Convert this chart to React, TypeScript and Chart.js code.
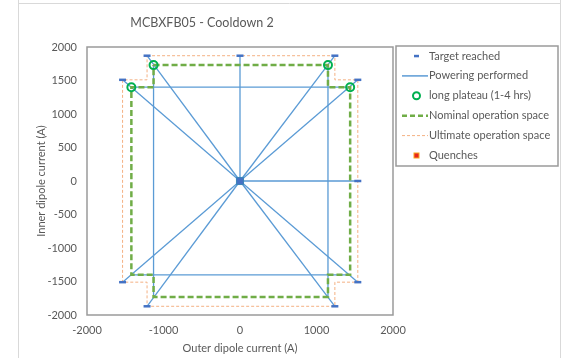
import React, { useEffect, useRef } from 'react';
import { Chart, registerables } from 'chart.js';

Chart.register(...registerables);

const FONT = 'Lato, "Open Sans", sans-serif';
const TEXT = '#595959';

// ---- data ----
const chartTitle = 'MCBXFB05 - Cooldown 2';
const xAxisTitle = 'Outer dipole current (A)';
const yAxisTitle = 'Inner dipole current (A)';

const targetX = [-1215, 0, 1240, 1540, 1540, 1540, 1240, -1215, -1535, -1535];
const targetY = [1870, 1870, 1870, 1510, 0, -1510, -1870, -1870, -1510, 1510];

const plateauX = [-1130, 1150, -1420, 1440];
const plateauY = [1730, 1730, 1400, 1400];

const nominalX = [-1130, 1150, 1150, 1440, 1440, 1150, 1150, -1130, -1130, -1420, -1420, -1130, -1130];
const nominalY = [1730, 1730, 1400, 1400, -1400, -1400, -1730, -1730, -1400, -1400, 1400, 1400, 1730];

const ultimateX = [-1215, 1240, 1240, 1540, 1540, 1240, 1240, -1215, -1215, -1535, -1535, -1215, -1215];
const ultimateY = [1870, 1870, 1510, 1510, -1510, -1510, -1870, -1870, -1510, -1510, 1510, 1510, 1870];

// powering paths: each path is a list of [x, y]
const poweringPaths: number[][][] = [
  [[-1420, 1400], [1440, 1400]],
  [[-1420, -1400], [1440, -1400]],
  [[-1130, 1730], [-1130, -1730]],
  [[1150, 1730], [1150, -1730]],
  [[0, 1870], [0, 0], [1540, 0]],
  [[0, 0], [-1215, 1870]],
  [[0, 0], [1240, 1870]],
  [[0, 0], [-1535, 1510]],
  [[0, 0], [1540, 1510]],
  [[0, 0], [-1535, -1510]],
  [[0, 0], [1540, -1510]],
  [[0, 0], [-1215, -1870]],
  [[0, 0], [1240, -1870]],
];

const originX = [0];
const originY = [0];

const quenchX: number[] = [];
const quenchY: number[] = [];

const legendLabels = [
  'Target reached',
  'Powering performed',
  'long plateau (1-4 hrs)',
  'Nominal operation space',
  'Ultimate operation space',
  'Quenches',
];

const BLUE_DARK = '#4472C4';
const BLUE = '#5B9BD5';
const GREEN_C = '#00B050';
const GREEN = '#70AD47';
const ORANGE = '#F4B183';

const pts = (xs: number[], ys: number[]) => xs.map((x, i) => ({ x, y: ys[i] }));

const framePlugin = {
  id: 'frame',
  beforeDraw(chart: any) {
    const ctx = chart.ctx;
    ctx.save();
    ctx.strokeStyle = '#d9d9d9';
    ctx.lineWidth = 1;
    ctx.beginPath();
    ctx.moveTo(18.5, 0);
    ctx.lineTo(18.5, 358);
    ctx.moveTo(560.5, 0);
    ctx.lineTo(560.5, 358);
    ctx.moveTo(18, 3.5);
    ctx.lineTo(561, 3.5);
    ctx.stroke();
    // title
    ctx.fillStyle = TEXT;
    ctx.font = `12.5px ${FONT}`;
    ctx.textAlign = 'center';
    ctx.textBaseline = 'middle';
    ctx.fillText(chartTitle, 202, 23);
    ctx.restore();
  },
  afterDatasetsDraw(chart: any) {
    const { ctx, chartArea } = chart;
    ctx.save();
    ctx.strokeStyle = '#9a9a9a';
    ctx.lineWidth = 1.5;
    ctx.strokeRect(chartArea.left, chartArea.top, chartArea.right - chartArea.left, chartArea.bottom - chartArea.top);
    ctx.restore();
  },
  afterDraw(chart: any) {
    const ctx = chart.ctx;
    ctx.save();
    ctx.strokeStyle = '#9a9a9a';
    ctx.lineWidth = 1.5;
    ctx.strokeRect(396, 46, 162, 120);
    const x0 = 402, x1 = 428, cx = 416.5;
    legendLabels.forEach((label, i) => {
      const y = 56 + i * 19.9;
      ctx.save();
      if (i === 0) {
        ctx.fillStyle = BLUE_DARK;
        ctx.fillRect(cx - 2.5, y - 1.2, 5, 2.5);
      } else if (i === 1) {
        ctx.strokeStyle = BLUE;
        ctx.lineWidth = 1.5;
        ctx.beginPath(); ctx.moveTo(x0, y); ctx.lineTo(x1, y); ctx.stroke();
      } else if (i === 2) {
        ctx.strokeStyle = GREEN_C;
        ctx.lineWidth = 2;
        ctx.beginPath(); ctx.arc(cx, y, 3.5, 0, Math.PI * 2); ctx.stroke();
      } else if (i === 3) {
        ctx.strokeStyle = GREEN;
        ctx.lineWidth = 2.5;
        ctx.setLineDash([5, 3]);
        ctx.beginPath(); ctx.moveTo(x0, y); ctx.lineTo(x1, y); ctx.stroke();
      } else if (i === 4) {
        ctx.strokeStyle = ORANGE;
        ctx.lineWidth = 1;
        ctx.setLineDash([3, 2]);
        ctx.beginPath(); ctx.moveTo(x0, y); ctx.lineTo(x1, y); ctx.stroke();
      } else {
        ctx.fillStyle = '#e8261c';
        ctx.strokeStyle = '#f8a51c';
        ctx.lineWidth = 1;
        ctx.fillRect(cx - 2.5, y - 2.5, 5, 5);
        ctx.strokeRect(cx - 2.5, y - 2.5, 5, 5);
      }
      ctx.restore();
      ctx.fillStyle = TEXT;
      ctx.font = `11px ${FONT}`;
      ctx.textAlign = 'left';
      ctx.textBaseline = 'middle';
      ctx.fillText(label, 429, y);
    });
    ctx.restore();
  },
};

export default function App() {
  const ref = useRef<HTMLCanvasElement | null>(null);

  useEffect(() => {
    if (!ref.current) return;
    const datasets: any[] = [];

    datasets.push({
      label: 'Target reached',
      data: pts(targetX, targetY),
      showLine: false,
      pointStyle: 'line',
      pointRadius: 3.5,
      pointBorderWidth: 2.5,
      pointBorderColor: BLUE_DARK,
      pointBackgroundColor: BLUE_DARK,
    });
    datasets.push({
      label: 'Quenches',
      data: pts(quenchX, quenchY),
      showLine: false,
      pointStyle: 'rect',
      pointRadius: 3,
      pointBackgroundColor: '#e8261c',
      pointBorderColor: '#f8a51c',
    });
    datasets.push({
      label: 'origin',
      data: pts(originX, originY),
      showLine: false,
      pointStyle: 'rect',
      pointRadius: 5,
      pointBorderWidth: 1,
      pointBackgroundColor: BLUE_DARK,
      pointBorderColor: '#3b86b8',
    });
    datasets.push({
      label: 'long plateau (1-4 hrs)',
      data: pts(plateauX, plateauY),
      showLine: false,
      pointStyle: 'circle',
      pointRadius: 4,
      pointBorderWidth: 2,
      pointBorderColor: GREEN_C,
      pointBackgroundColor: 'rgba(255,255,255,0)',
    });
    datasets.push({
      label: 'Nominal operation space',
      data: pts(nominalX, nominalY),
      showLine: true,
      borderColor: GREEN,
      borderWidth: 2.5,
      borderDash: [6, 3],
      pointRadius: 0,
      fill: false,
      tension: 0,
    });
    datasets.push({
      label: 'Ultimate operation space',
      data: pts(ultimateX, ultimateY),
      showLine: true,
      borderColor: ORANGE,
      borderWidth: 1,
      borderDash: [3, 2],
      pointRadius: 0,
      fill: false,
      tension: 0,
    });
    poweringPaths.forEach((p, i) => {
      datasets.push({
        label: 'Powering performed ' + i,
        data: p.map(([x, y]) => ({ x, y })),
        showLine: true,
        borderColor: BLUE,
        borderWidth: 1.3,
        pointRadius: 0,
        fill: false,
        tension: 0,
      });
    });

    const fmt = (v: any) => String(v);

    const chart = new Chart(ref.current, {
      type: 'scatter',
      data: { datasets },
      options: {
        animation: false,
        responsive: false,
        maintainAspectRatio: false,
        layout: { padding: { left: 30, right: 173, top: 47, bottom: 0 } },
        plugins: {
          legend: { display: false },
          tooltip: { enabled: false },
          title: { display: false },
        },
        scales: {
          x: {
            type: 'linear',
            min: -2000,
            max: 2000,
            grid: { display: false, drawTicks: false },
            border: { display: false },
            ticks: { stepSize: 1000, color: TEXT, font: { family: FONT, size: 11 }, padding: 9, maxRotation: 0, callback: fmt },
            title: { display: true, text: xAxisTitle, color: TEXT, font: { family: FONT, size: 11 }, padding: { top: 4, bottom: 3 } },
            afterFit: (s: any) => { s.height = 43; s.paddingLeft = 0; s.paddingRight = 0; },
          },
          y: {
            type: 'linear',
            min: -2000,
            max: 2000,
            grid: { display: false, drawTicks: false },
            border: { display: false },
            ticks: { stepSize: 500, color: TEXT, font: { family: FONT, size: 11 }, padding: 10, callback: fmt },
            title: { display: true, text: yAxisTitle, color: TEXT, font: { family: FONT, size: 11 }, padding: { top: 5, bottom: 2 } },
            afterFit: (s: any) => { s.width = 57; s.paddingTop = 0; s.paddingBottom = 0; },
          },
        },
      },
      plugins: [framePlugin],
    });
    return () => chart.destroy();
  }, []);

  return (
    <div style={{ position: 'absolute', left: 0, top: 0, width: 566, height: 358, background: '#fff' }}>
      <canvas ref={ref} width={566} height={358} style={{ display: 'block', width: 566, height: 358 }} />
    </div>
  );
}
